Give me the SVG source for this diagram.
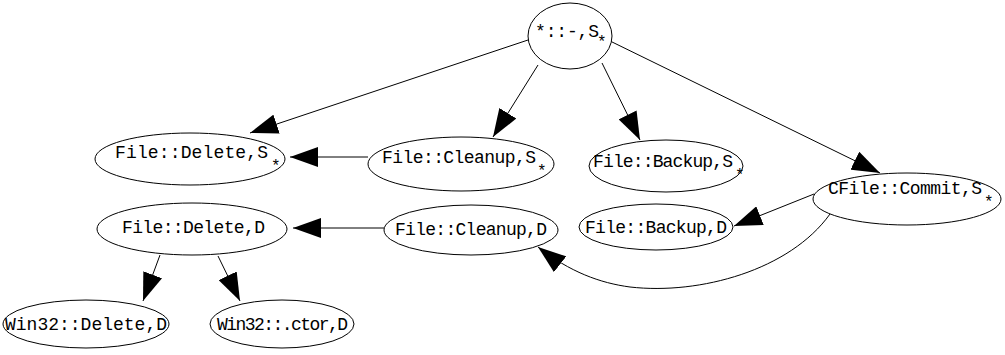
<svg xmlns="http://www.w3.org/2000/svg" width="1005" height="355" viewBox="0 0 1005 355">
<style>
.n ellipse{fill:#fff;stroke:#000;stroke-width:1}
.n text{font-family:"Liberation Mono","Courier New",monospace;font-size:18px;fill:#000}
.n text.sub{font-size:16px}
.e path{fill:none;stroke:#000;stroke-width:1;marker-end:url(#ah)}
</style>
<defs>
<marker id="ah" markerUnits="userSpaceOnUse" markerWidth="30" markerHeight="20" refX="28" refY="10" orient="auto">
<path d="M0,0 L28,10 L0,20 Z" fill="#000"/>
</marker>
</defs>
<g id="edges" class="e">
<path d="M528,40 L250,133"/>
<path d="M538,65 L493,137"/>
<path d="M602,63 L640,140"/>
<path d="M608,40 L880,173"/>
<path d="M368,157 L290,157"/>
<path d="M384,228 L293,228"/>
<path d="M814,194 L734,226"/>
<path d="M830,214 C790,270 700,295 630,287 C600,283 570,272 538,247"/>
<path d="M160,255 L143,301"/>
<path d="M218,256 L240,301"/>
</g>
<g id="root" class="n"><ellipse cx="570" cy="36" rx="42" ry="33"/><text x="535" y="37" textLength="64">*::-,S</text><text class="sub" x="597" y="47">*</text></g>
<g id="delS" class="n"><ellipse cx="190" cy="159" rx="95" ry="26"/><text x="115" y="158" textLength="153">File::Delete,S</text><text class="sub" x="271" y="171">*</text></g>
<g id="cleS" class="n"><ellipse cx="461" cy="164" rx="93" ry="27"/><text x="382" y="163" textLength="154">File::Cleanup,S</text><text class="sub" x="537" y="176">*</text></g>
<g id="bakS" class="n"><ellipse cx="666" cy="166" rx="77" ry="26"/><text x="593" y="167" textLength="140">File::Backup,S</text><text class="sub" x="735" y="180">*</text></g>
<g id="comS" class="n"><ellipse cx="907" cy="199" rx="94" ry="26"/><text x="828" y="194" textLength="154">CFile::Commit,S</text><text class="sub" x="984" y="207">*</text></g>
<g id="delD" class="n"><ellipse cx="192" cy="229" rx="95" ry="26"/><text x="122" y="233" textLength="143">File::Delete,D</text></g>
<g id="cleD" class="n"><ellipse cx="471" cy="230" rx="87" ry="25"/><text x="395" y="235" textLength="152">File::Cleanup,D</text></g>
<g id="bakD" class="n"><ellipse cx="656" cy="227" rx="77" ry="23"/><text x="585" y="233" textLength="142">File::Backup,D</text></g>
<g id="w32del" class="n"><ellipse cx="86" cy="324" rx="83" ry="24"/><text x="5" y="330" textLength="162">Win32::Delete,D</text></g>
<g id="w32ctor" class="n"><ellipse cx="282" cy="324" rx="72" ry="24"/><text x="217" y="330" textLength="131">Win32::.ctor,D</text></g>
</svg>
